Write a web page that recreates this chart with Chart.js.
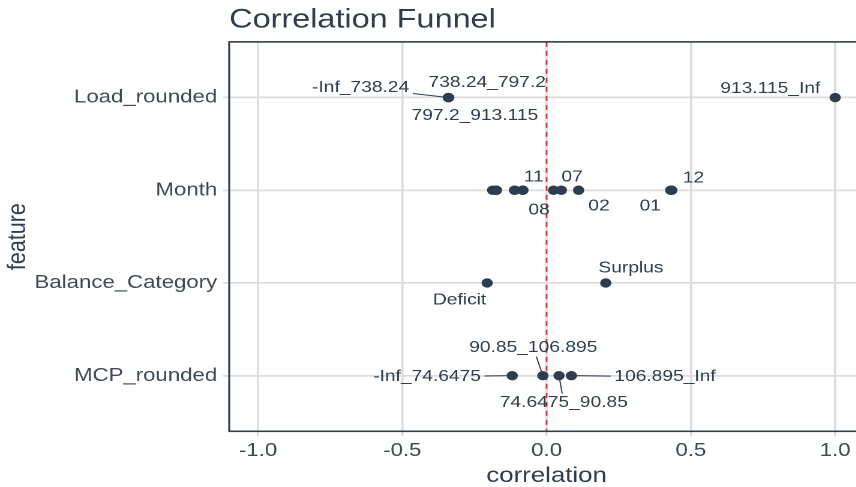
<!DOCTYPE html>
<html>
<head>
<meta charset="utf-8">
<script src="https://cdn.jsdelivr.net/npm/chart.js@4"></script>
<style>
  html, body { margin: 0; padding: 0; background: #fff; overflow: hidden; width: 856px; height: 487px; }
  /* the reference is stretched sideways, so the chart is drawn narrow and widened */
  #wrap { width: 720px; height: 487px; transform: scaleX(1.2); transform-origin: 0 0; }
</style>
</head>
<body>
<div id="wrap"><canvas id="funnel" width="720" height="487"></canvas></div>
<script>
// features, bottom to top
const features = ["MCP_rounded", "Balance_Category", "Month", "Load_rounded"];

const loadBins = ["-Inf_738.24", "738.24_797.2", "797.2_913.115", "913.115_Inf"];
const loadCorr = [-0.341, -0.339, -0.340, 1.0];

const monthBins = ["01", "02", "03", "04", "05", "06", "07", "08", "09", "10", "11", "12"];
const monthCorr = [0.434, 0.111, -0.187, -0.174, -0.111, -0.083, 0.051, 0.024, -0.111, -0.174, -0.082, 0.430];

const balanceBins = ["Deficit", "Surplus"];
const balanceCorr = [-0.206, 0.205];

const mcpBins = ["-Inf_74.6475", "74.6475_90.85", "90.85_106.895", "106.895_Inf"];
const mcpCorr = [-0.119, 0.043, -0.013, 0.086];

const xTicks = [-1.0, -0.5, 0.0, 0.5, 1.0];

// where each shown label sits relative to its point (px), and whether it gets a leader line
const labelNudge = {
  "-Inf_738.24": [-73, -10, true],
  "738.24_797.2": [32, -15, false],
  "797.2_913.115": [22, 18, false],
  "913.115_Inf": [-54, -9, false],
  "12": [19, -12, false],
  "01": [-18, 16, false],
  "02": [17, 16, false],
  "07": [9, -13, false],
  "08": [-12, 20, false],
  "11": [9, -13, false],
  "Deficit": [-23, 17, false],
  "Surplus": [21, -15, false],
  "-Inf_74.6475": [-71, 1, true],
  "90.85_106.895": [-8, -28, true],
  "74.6475_90.85": [4, 27, true],
  "106.895_Inf": [78, 1, true]
};

const ink = "#2c3e50";
const gridCol = "#dcdcdc";
const fam = "'Liberation Sans', Arial, sans-serif";

const points = [];
function addRows(feature, bins, corr) {
  const yv = features.indexOf(feature) + 1;
  bins.forEach((b, i) => points.push({ x: corr[i], y: yv, label: b }));
}
addRows("Load_rounded", loadBins, loadCorr);
addRows("Month", monthBins, monthCorr);
addRows("Balance_Category", balanceBins, balanceCorr);
addRows("MCP_rounded", mcpBins, mcpCorr);

const funnelExtras = {
  id: "funnelExtras",
  beforeDatasetsDraw(chart) {
    const { ctx, chartArea, scales } = chart;
    const x0 = scales.x.getPixelForValue(0);
    ctx.save();
    ctx.strokeStyle = "#ff2020";
    ctx.lineWidth = 1.4;
    ctx.setLineDash([5, 4]);
    ctx.beginPath();
    ctx.moveTo(x0, chartArea.top);
    ctx.lineTo(x0, chartArea.bottom);
    ctx.stroke();
    ctx.restore();
  },
  afterDatasetsDraw(chart) {
    const { ctx, chartArea } = chart;
    const meta = chart.getDatasetMeta(0);
    ctx.save();
    ctx.font = "16px " + fam;
    ctx.fillStyle = ink;
    ctx.strokeStyle = ink;
    ctx.lineWidth = 1;
    ctx.textAlign = "center";
    ctx.textBaseline = "middle";
    meta.data.forEach((el, i) => {
      const lab = points[i].label;
      const nd = labelNudge[lab];
      if (!nd) return;
      const cx = el.x + nd[0], cy = el.y + nd[1];
      if (nd[2]) {
        const hw = ctx.measureText(lab).width / 2 + 3, hh = 9;
        const dx = el.x - cx, dy = el.y - cy;
        const t = Math.min(dx ? hw / Math.abs(dx) : 99, dy ? hh / Math.abs(dy) : 99);
        ctx.beginPath();
        ctx.moveTo(cx + dx * t, cy + dy * t);
        ctx.lineTo(el.x, el.y);
        ctx.stroke();
      }
      ctx.fillText(lab, cx, cy);
    });
    // panel border
    ctx.strokeStyle = ink;
    ctx.lineWidth = 1.6;
    ctx.strokeRect(chartArea.left, chartArea.top, chartArea.right - chartArea.left + 5, chartArea.bottom - chartArea.top);
    ctx.restore();
  }
};

new Chart(document.getElementById("funnel").getContext("2d"), {
  type: "scatter",
  data: {
    datasets: [{
      data: points,
      backgroundColor: ink,
      borderColor: ink,
      pointRadius: 4.2,
      pointHoverRadius: 4.2,
      clip: false
    }]
  },
  options: {
    responsive: false,
    animation: false,
    devicePixelRatio: 2,
    layout: { autoPadding: false, padding: { left: 0, right: 0, top: 0, bottom: 0 } },
    plugins: {
      legend: { display: false },
      tooltip: { enabled: false },
      title: {
        display: true,
        text: "Correlation Funnel",
        align: "start",
        fullSize: false,
        color: ink,
        font: { family: fam, size: 27, weight: "normal" },
        padding: { top: 4, bottom: 5.5 }
      }
    },
    scales: {
      x: {
        type: "linear",
        min: -1.1,
        max: 1.1,
        afterBuildTicks: (s) => { s.ticks = xTicks.map(v => ({ value: v })); },
        afterFit: (s) => { s.paddingLeft = 0; s.paddingRight = 0; },
        ticks: {
          color: "#3d4b59",
          font: { family: fam, size: 18.5 },
          padding: 3.5,
          callback: (v) => Number(v).toFixed(1)
        },
        grid: { color: gridCol, lineWidth: 1.8, tickLength: 5, tickColor: gridCol },
        border: { display: false },
        title: {
          display: true,
          text: "correlation",
          color: ink,
          font: { family: fam, size: 21.5, lineHeight: 1.0 },
          padding: { top: 0, bottom: 0 }
        }
      },
      y: {
        type: "linear",
        min: 0.4,
        max: 4.6,
        afterBuildTicks: (s) => { s.ticks = features.map((f, i) => ({ value: i + 1 })); },
        afterFit: (s) => { s.width = 191; s.paddingTop = 0; s.paddingBottom = 0; },
        ticks: {
          color: "#3d4b59",
          font: { family: fam, size: 18.5 },
          padding: 5,
          callback: (v) => features[v - 1]
        },
        grid: { color: gridCol, lineWidth: 1.8, tickLength: 5, tickColor: gridCol },
        border: { display: false },
        title: {
          display: true,
          text: "feature",
          color: ink,
          font: { family: fam, size: 21.5 },
          padding: { top: 2, bottom: 0 }
        }
      }
    }
  },
  plugins: [funnelExtras]
});
</script>
</body>
</html>
